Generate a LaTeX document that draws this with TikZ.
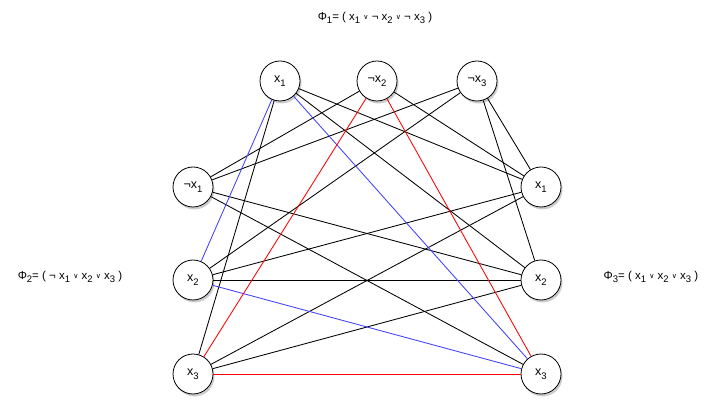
\documentclass[tikz,border=0pt]{standalone}
\usepackage{fontspec}
\setmainfont{Liberation Sans}
\newfontfamily\symfont{DejaVu Sans}
\usetikzlibrary{shadows}
\newcommand{\orsym}{\raisebox{0.2ex}{\symfont\fontsize{7}{8}\selectfont ∨}}
\newcommand{\sub}[1]{\raisebox{-0.55ex}{\fontsize{9.5}{10}\selectfont #1}}
\tikzset{
	lit/.style={circle,draw=black,fill=white,line width=0.8pt,minimum size=40pt,inner sep=0pt,
		font=\fontsize{12.5}{14}\selectfont,
		drop shadow={opacity=0.4,shadow xshift=1.5pt,shadow yshift=-2.5pt}},
	clause/.style={font=\fontsize{11.5}{13}\selectfont},
	edge/.style={line width=0.85pt,black},
	edgeb/.style={line width=0.85pt,blue!75!white},
	edger/.style={line width=0.85pt,red},
	}

\begin{document}
\begin{tikzpicture}[x=1pt,y=-1pt]
 \useasboundingbox (0,0) rectangle (717,419);

\node (phi1) at (375,18) [clause] {Φ\sub{1}= ( x\sub{1} \orsym{} ¬ x\sub{2} \orsym{} ¬ x\sub{3} )};
\node (phi2) at (70,277) [clause] {Φ\sub{2}= ( ¬ x\sub{1} \orsym{} x\sub{2} \orsym{} x\sub{3} )};
\node (phi3) at (651,277) [clause] {Φ\sub{3}= ( x\sub{1} \orsym{} x\sub{2} \orsym{} x\sub{3} )};

% clause 1 (top)
\node (t1) at (280,81) [lit] {x\sub{1}};
\node (t2) at (377,81) [lit] {¬x\sub{2}};
\node (t3) at (477,81) [lit] {¬x\sub{3}};
% clause 2 (left)
\node (l1) at (193,187) [lit] {¬x\sub{1}};
\node (l2) at (193,280) [lit] {x\sub{2}};
\node (l3) at (193,374) [lit] {x\sub{3}};
% clause 3 (right)
\node (r1) at (541,187) [lit] {x\sub{1}};
\node (r2) at (541,280) [lit] {x\sub{2}};
\node (r3) at (541,374) [lit] {x\sub{3}};

 \foreach \a/\b in {t1/l3,t2/l1,t3/l1,t3/l2,t1/r1,t1/r2,t2/r1,t3/r1,t3/r2,
   l1/r2,l1/r3,l2/r1,l2/r2,l3/r1,l3/r2}
 \draw [edge] (\a)--(\b);
 \foreach \a/\b in {t1/l2,t1/r3,l2/r3}
 \draw [edgeb] (\a)--(\b);
 \foreach \a/\b in {t2/l3,t2/r3,l3/r3}
 \draw [edger] (\a)--(\b);
\end{tikzpicture}
\end{document}
